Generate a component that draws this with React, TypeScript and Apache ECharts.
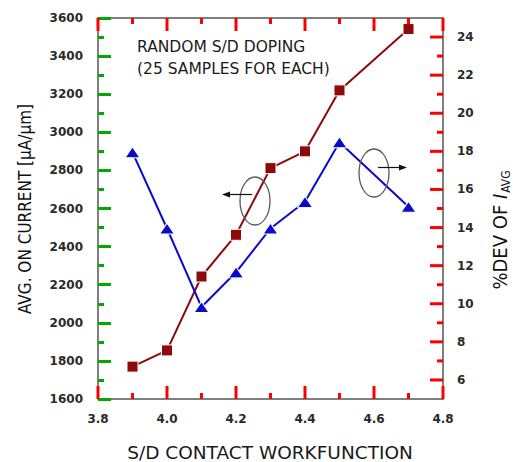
import React, { useEffect, useRef } from "react";
import * as echarts from "echarts";

const workfunction = [3.9, 4.0, 4.1, 4.2, 4.3, 4.4, 4.5, 4.7];
const onCurrent = [1770, 1855, 2243, 2462, 2812, 2900, 3220, 3542];
const devPercent = [17.95, 13.95, 9.83, 11.65, 13.95, 15.35, 18.48, 15.09];
const xMajorTicks = [3.8, 4.0, 4.2, 4.4, 4.6, 4.8];
const xMinorTicks = [3.9, 4.1, 4.3, 4.5, 4.7];
const leftMajorTicks = [1600, 1800, 2000, 2200, 2400, 2600, 2800, 3000, 3200, 3400, 3600];
const leftMinorTicks = [1700, 1900, 2100, 2300, 2500, 2700, 2900, 3100, 3300, 3500];
const rightMajorTicks = [6, 8, 10, 12, 14, 16, 18, 20, 22, 24];
const rightMinorTicks = [7, 9, 11, 13, 15, 17, 19, 21, 23];
const annotation = ["RANDOM S/D DOPING", "(25 SAMPLES FOR EACH)"];

const X_MIN = 3.8;
const X_MAX = 4.8;
const L_MIN = 1600;
const L_MAX = 3600;
const R_MIN = 5;
const R_MAX = 25;

const AX = "#555555";
const LBL = "#2a2a2a";
const TICKFONT = "'DejaVu Sans', Verdana, sans-serif";
const NARROW = "'Liberation Sans Narrow', 'DejaVu Sans Condensed', sans-serif";
const MAJOR_LEN = 13;
const MINOR_LEN = 6;
const TICK_W = 3;

function tickSeries(points: number[][], yAxisIndex: number, size: number[], offset: number[]) {
  return {
    type: "scatter",
    xAxisIndex: 0,
    yAxisIndex,
    data: points,
    symbol: "rect",
    symbolSize: size,
    symbolOffset: offset,
    itemStyle: { color: "#ff0000", borderWidth: 0, opacity: 1 },
    silent: true,
    clip: false,
    z: 5,
  };
}

export default function App() {
  const ref = useRef<HTMLDivElement>(null);
  useEffect(() => {
    document.body.style.margin = "0";
    const chart = echarts.init(ref.current!, null, { renderer: "svg" });
    const axisLine = { show: true, lineStyle: { color: AX, width: 1.5 } };
    const labelStyle = { fontFamily: TICKFONT, fontSize: 12, fontWeight: "bold", color: LBL };
    const xCommon = {
      type: "value",
      min: X_MIN,
      max: X_MAX,
      interval: 0.2,
      axisLine,
      splitLine: { show: false },
      axisTick: { show: false },
    };
    const ticks = [
      tickSeries(xMajorTicks.map((v) => [v, L_MIN]), 0, [TICK_W, MAJOR_LEN], [0, -MAJOR_LEN / 2]),
      tickSeries(xMinorTicks.map((v) => [v, L_MIN]), 0, [TICK_W, MINOR_LEN], [0, -MINOR_LEN / 2]),
      tickSeries(xMajorTicks.map((v) => [v, L_MAX]), 0, [TICK_W, MAJOR_LEN], [0, MAJOR_LEN / 2]),
      tickSeries(xMinorTicks.map((v) => [v, L_MAX]), 0, [TICK_W, MINOR_LEN], [0, MINOR_LEN / 2]),
      tickSeries(rightMajorTicks.map((v) => [X_MAX, v]), 1, [MAJOR_LEN, TICK_W], [-MAJOR_LEN / 2, 0]),
      tickSeries(rightMinorTicks.map((v) => [X_MAX, v]), 1, [MINOR_LEN, TICK_W], [-MINOR_LEN / 2, 0]),
    ];
    chart.setOption({
      animation: false,
      grid: { left: 98, right: 78, top: 18, bottom: 63 },
      xAxis: [
        { ...xCommon, position: "bottom", axisLabel: { ...labelStyle, margin: 14, formatter: (v: number) => v.toFixed(1) } },
        { ...xCommon, position: "top", axisLabel: { show: false } },
      ],
      yAxis: [
        {
          type: "value",
          position: "left",
          min: L_MIN,
          max: L_MAX,
          interval: 200,
          axisLine,
          splitLine: { show: false },
          axisTick: { show: true, inside: true, length: 13, lineStyle: { color: "#00aa00", width: 3 } },
          minorTick: { show: true, splitNumber: 2, length: 6, lineStyle: { color: "#00aa00", width: 3 } },
          axisLabel: { ...labelStyle, margin: 15, formatter: (v: number) => String(v) },
        },
        {
          type: "value",
          position: "right",
          min: R_MIN,
          max: R_MAX,
          interval: 1,
          axisLine,
          splitLine: { show: false },
          axisTick: { show: false },
          axisLabel: { ...labelStyle, margin: 14, formatter: (v: number) => (rightMajorTicks.indexOf(v) >= 0 ? String(v) : "") },
        },
      ],
      series: [
        ...ticks,
        {
          type: "line",
          xAxisIndex: 0,
          yAxisIndex: 0,
          data: workfunction.map((x, i) => [x, onCurrent[i]]),
          symbol: "rect",
          symbolSize: 11,
          lineStyle: { color: "#8c0a0a", width: 2 },
          itemStyle: { color: "#8c0a0a", borderColor: "#ffffff", borderWidth: 1 },
          z: 3,
        },
        {
          type: "line",
          xAxisIndex: 0,
          yAxisIndex: 1,
          data: workfunction.map((x, i) => [x, devPercent[i]]),
          symbol: "triangle",
          symbolSize: [15, 11],
          lineStyle: { color: "#0a0acc", width: 2 },
          itemStyle: { color: "#0a0acc", borderColor: "#ffffff", borderWidth: 1 },
          z: 4,
        },
      ],
      graphic: [
        {
          type: "text",
          left: 137,
          top: 36,
          style: { text: annotation[0] + "\n" + annotation[1], fontFamily: TICKFONT, fontSize: 15.5, lineHeight: 22, fill: "#1a1a1a" },
          z: 10,
        },
        { type: "ellipse", shape: { cx: 255, cy: 201, rx: 15, ry: 24 }, style: { fill: "none", stroke: "#5a5a5a", lineWidth: 1.3 }, z: 10 },
        { type: "line", shape: { x1: 252, y1: 194.5, x2: 228, y2: 194.5 }, style: { stroke: "#111", lineWidth: 1.2 }, z: 10 },
        { type: "polygon", shape: { points: [[222, 194.5], [230, 191.5], [230, 197.5]] }, style: { fill: "#111" }, z: 10 },
        { type: "ellipse", shape: { cx: 374, cy: 173, rx: 15, ry: 24 }, style: { fill: "none", stroke: "#5a5a5a", lineWidth: 1.3 }, z: 10 },
        { type: "line", shape: { x1: 378, y1: 167.5, x2: 401, y2: 167.5 }, style: { stroke: "#111", lineWidth: 1.2 }, z: 10 },
        { type: "polygon", shape: { points: [[407, 167.5], [399, 164.5], [399, 170.5]] }, style: { fill: "#111" }, z: 10 },
        {
          type: "text",
          x: 25,
          y: 209,
          rotation: Math.PI / 2,
          style: { text: "AVG. ON CURRENT [μA/μm]", fontFamily: NARROW, fontSize: 17, fill: "#111", align: "center", verticalAlign: "middle" },
        },
        {
          type: "text",
          x: 500,
          y: 230,
          rotation: Math.PI / 2,
          style: {
            text: "{n|%DEV OF }{i|I}{s|AVG}",
            align: "center",
            verticalAlign: "middle",
            rich: {
              n: { fontFamily: NARROW, fontSize: 20, fill: "#111", lineHeight: 24 },
              i: { fontFamily: NARROW, fontSize: 20, fontStyle: "italic", fill: "#111", lineHeight: 24 },
              s: { fontFamily: NARROW, fontSize: 12, fill: "#111", lineHeight: 24, verticalAlign: "bottom", padding: [10, 0, 0, 1] },
            },
          },
        },
        {
          type: "text",
          x: 270,
          y: 452,
          style: { text: "S/D CONTACT WORKFUNCTION", fontFamily: TICKFONT, fontSize: 18.5, fill: "#1a1a1a", align: "center", verticalAlign: "middle" },
        },
      ],
    });
    return () => chart.dispose();
  }, []);
  return <div ref={ref} style={{ width: 521, height: 462 }} />;
}
